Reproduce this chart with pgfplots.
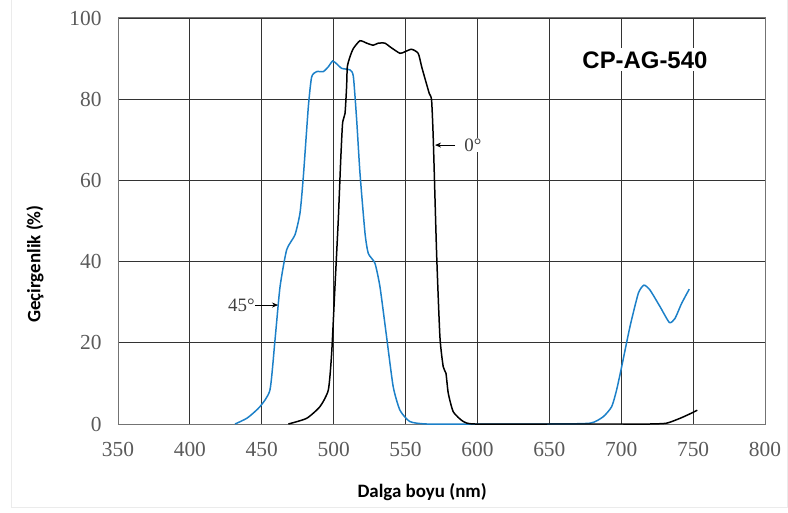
\documentclass[border=0pt]{standalone}
\usepackage{pgfplots}
\pgfplotsset{compat=1.18}
\usetikzlibrary{arrows.meta}
\usepackage{fontspec}
\setmainfont{Liberation Serif}
\newfontfamily\carlito{Carlito}
\newfontfamily\lsans{Liberation Sans}
\definecolor{cblue}{RGB}{28,128,200}
\definecolor{tickgray}{RGB}{90,90,90}
\begin{document}
\begin{tikzpicture}
\begin{axis}[
  scale only axis, width=647bp, height=406bp,
  xmin=350, xmax=800, ymin=0, ymax=100,
  xtick={350,400,...,800}, ytick={0,20,...,100},
  grid=major, major grid style={black!80, line width=0.8pt},
  axis line style={black!55, line width=1pt},
  major tick length=0pt,
  tick label style={font=\fontsize{21.5}{23}\selectfont, text=tickgray},
  /pgf/number format/assume math mode=true,
  xticklabel style={yshift=-15bp},
  yticklabel style={xshift=-13bp},
  clip=false,
  xlabel={\carlito\bfseries\fontsize{19}{22}\selectfont Dalga boyu (nm)},
  xlabel style={at={(axis description cs:0.47,0)}, anchor=center, yshift=-68bp},
  ylabel={\carlito\bfseries\fontsize{19}{22}\selectfont Geçirgenlik (\%)},
  ylabel style={at={(axis description cs:0,0.394)}, anchor=center, yshift=83bp},
]
\addplot[cblue, line width=1.5pt, smooth, tension=0.35] coordinates {
(431.4,0) (440,1.5) (448.8,4.3) (455.7,8.4) (459.2,20.7) (462.7,33.8)
(467.3,42.9) (473.1,46.6) (476.6,52) (478.9,60.9) (482.4,78.2) (484.7,85.5)
(488.2,86.8) (492.8,86.8) (496.3,88) (499.3,89.4) (502.1,88.7) (505.6,87.6)
(511.4,87.2) (513.7,85.6) (516.0,74.9) (518.3,61.8) (521.8,47) (524.1,42)
(528.7,39.6) (532.2,33.8) (536.8,21.5) (541.4,9.2) (546.1,3.4) (553,0.6)
(564.7,0) (600,0) (650,0) (678.3,0.2) (687.5,1.8) (693.4,4.3) (696.8,8.4)
(700.3,14.1) (706.1,24) (711.9,32.2) (715.8,34.2) (720,33) (727,28.9)
(733.5,25) (737.4,26) (742,29.7) (747.3,33.2)
};
\addplot[black, line width=1.5pt, smooth, tension=0.35] coordinates {
(468.5,0) (481.2,1.4) (490.5,4.3) (496.3,8.4) (498.6,17.4) (500.9,33.8)
(503.2,50.2) (504.9,65) (506.2,74.1) (507.9,76.5) (509,83.1) (509.5,88)
(511.4,90.5) (513.7,92.5) (518.3,94.4) (523,93.8) (527.5,93.3) (531,93.8)
(535.7,93.8) (539.2,92.9) (546.1,91.3) (549.6,91.7) (554.2,92.3) (558.8,91.3)
(561.2,88) (563.5,85.1) (566.5,81.4) (568.1,79.8) (569.3,70) (571.6,42)
(573.9,21.5) (576.2,14.1) (578.1,12.5) (579.7,7.6) (583.2,3) (590.2,0.6)
(598.3,0) (650,0) (700,0) (720,0) (731.6,0.2) (740.9,1.4) (747.8,2.5) (752.9,3.4)
};
\node[fill=white, inner sep=3bp, font=\lsans\bfseries\fontsize{24}{26}\selectfont] at (axis cs:716.5,89.7) {CP-AG-540};
\draw[black, line width=0.8pt, -{Stealth[length=6bp,width=5bp]}] (axis cs:584.4,68.7) -- (axis cs:570.5,68.7);
\node[fill=white, inner sep=1bp, text=black!75, font=\fontsize{19}{21}\selectfont] at (axis cs:596.8,68.7) {0°};
\draw[black, line width=0.8pt, -{Stealth[length=6bp,width=5bp]}] (axis cs:445.3,29.3) -- (axis cs:461.3,29.3);
\node[inner sep=1bp, text=black!75, font=\fontsize{19}{21}\selectfont] at (axis cs:435.8,29.3) {45°};
\end{axis}
\draw[black!8, line width=0.8pt] ([shift={(-107bp,424bp)}]current axis.south west) -- ([shift={(-107bp,-83bp)}]current axis.south west) -- ([shift={(22bp,-83bp)}]current axis.south east) -- ([shift={(22bp,18bp)}]current axis.north east);
\pgfresetboundingbox
\path ([shift={(-118bp,-89bp)}]current axis.south west) rectangle ([shift={(23bp,18bp)}]current axis.north east);
\end{tikzpicture}
\end{document}
